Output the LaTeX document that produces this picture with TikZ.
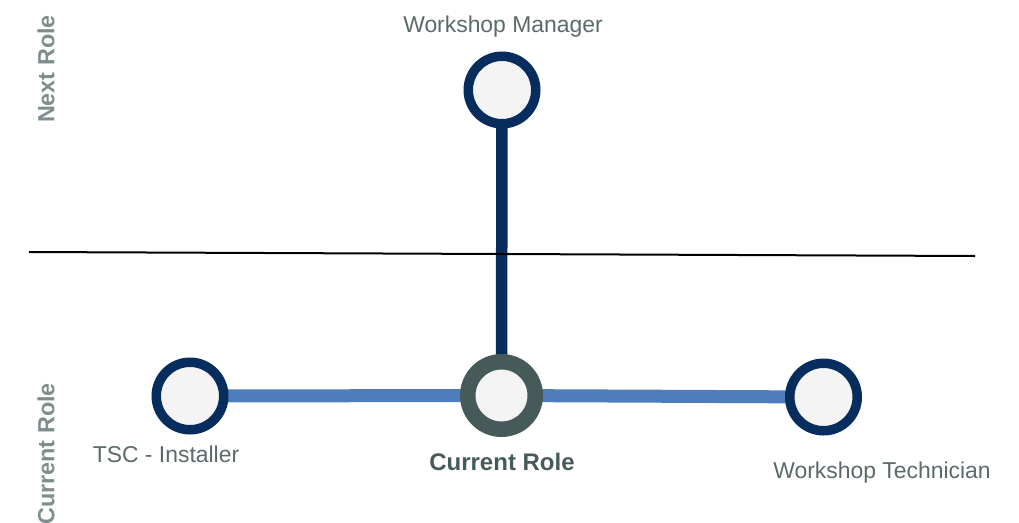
\documentclass[tikz,border=0pt]{standalone}
\usepackage{fontspec}
\setmainfont{Liberation Sans}
\usetikzlibrary{backgrounds}
\definecolor{navy}{HTML}{062D5E}
\definecolor{ringgrey}{HTML}{475A5A}
\definecolor{linkblue}{HTML}{4E7DBE}
\definecolor{fillgrey}{HTML}{F4F4F4}
\definecolor{txtgrey}{HTML}{5A6A6A}
\definecolor{sidegrey}{HTML}{7E8E8E}
\tikzset{
  role/.style={circle, draw=navy, fill=fillgrey, line width=9.5pt, minimum size=67.5pt, inner sep=0pt},
  current/.style={role, draw=ringgrey, line width=15.5pt},
  lbl/.style={text=txtgrey, font=\fontsize{22.9}{24}\selectfont, inner sep=0pt, anchor=base},
  curlbl/.style={text=ringgrey, font=\bfseries\fontsize{24}{25}\selectfont, inner sep=0pt, anchor=base},
  side/.style={text=sidegrey, font=\bfseries\fontsize{23.4}{25}\selectfont, inner sep=0pt, rotate=90, anchor=center},
  uplink/.style={draw=navy, line width=11.5pt},
  sidelink/.style={draw=linkblue, line width=13pt},
  divider/.style={draw=black, line width=2pt}
}
\begin{document}
\begin{tikzpicture}[x=1pt,y=-1pt]
\useasboundingbox (0,0) rectangle (1019,522);
% divider
\coordinate (dl) at (29,252);
\coordinate (dr) at (975,256);
\draw[divider] (dl) -- (dr);
% nodes
\node[role] (mgr) at (502,90) {};
\node[current] (cur) at (501.5,395.5) {};
\node[role] (tsc) at (190,396) {};
\node[role] (tech) at (823.5,397) {};
% links
\begin{scope}[on background layer]
\draw[uplink] (mgr.center) -- (cur.center);
\draw[sidelink] (tsc.center) -- (cur.center);
\draw[sidelink] (cur.center) -- (tech.center);
\end{scope}
% labels
\node[lbl] (lmgr) at (503,32) {Workshop Manager};
\node[lbl] (ltsc) at (166,462) {TSC - Installer};
\node[lbl] (ltech) at (882,478) {Workshop Technician};
\node[curlbl] (lcur) at (502,470) {Current Role};
\node[side] (snext) at (46,69) {Next Role};
\node[side] (scur) at (46,454) {Current Role};
\end{tikzpicture}
\end{document}
